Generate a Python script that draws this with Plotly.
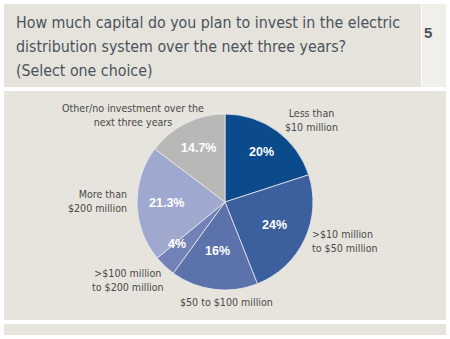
import math
import plotly.graph_objects as go

W, H = 450, 339

categories = ["Less than $10 million", ">$10 million to $50 million", "$50 to $100 million",
              ">$100 million to $200 million", "More than $200 million",
              "Other/no investment over the next three years"]
values = [20, 24, 16, 4, 21.3, 14.7]
pct_labels = ["20%", "24%", "16%", "4%", "21.3%", "14.7%"]
label_texts = ["Less than<br>$10 million", ">$10 million<br>to $50 million", "$50 to $100 million",
               ">$100 million<br>to $200 million", "More than<br>$200 million",
               "Other/no investment over the<br>next three years"]
title_lines = ["How much capital do you plan to invest in the electric",
               "distribution system over the next three years?",
               "(Select one choice)"]
colors = ["#0b4a8b", "#3c5f9e", "#5b72aa", "#7282b6", "#9fa9cf", "#b8b8b6"]

NARROW = "DejaVu Sans Condensed, DejaVu Sans, sans-serif"

def px(x):
    return x / W

def py(y):
    return 1 - y / H

cx, cy, R = 225, 202, 88

fig = go.Figure()
fig.add_trace(go.Pie(
    labels=categories, values=values, sort=False, direction="clockwise", rotation=0,
    marker=dict(colors=colors, line=dict(color="#e8e8ef", width=0.8)),
    textinfo="none", hoverinfo="label+percent", showlegend=False,
    domain=dict(x=[px(cx - R), px(cx + R)], y=[py(cy + R), py(cy - R)]),
))

shapes = [
    dict(type="rect", xref="paper", yref="paper", x0=px(4), x1=px(421), y0=py(87), y1=py(4),
         fillcolor="#e5e3dc", line=dict(width=0), layer="below"),
    dict(type="rect", xref="paper", yref="paper", x0=px(422), x1=px(446), y0=py(87), y1=py(4),
         fillcolor="#f0efe9", line=dict(width=0), layer="below"),
    dict(type="rect", xref="paper", yref="paper", x0=px(4), x1=px(446), y0=py(320), y1=py(91),
         fillcolor="#e6e4dc", line=dict(width=0), layer="below"),
    dict(type="rect", xref="paper", yref="paper", x0=px(4), x1=px(446), y0=py(335), y1=py(324),
         fillcolor="#e6e4dc", line=dict(width=0), layer="below"),
]

annotations = [
    dict(text="<b>5</b>", x=px(434), y=py(22), xref="paper", yref="paper", showarrow=False,
         font=dict(family="Liberation Sans, Arial", size=15, color="#4b535b")),
]
for i, line in enumerate(title_lines):
    annotations.append(dict(text=line, x=px(14), y=py(22 + 24.5 * i), xref="paper", yref="paper",
                            xanchor="left", yanchor="middle", align="left", showarrow=False,
                            font=dict(family=NARROW, size=15.8, color="#4b535b")))

# percentage labels inside slices, positioned at slice mid-angles
total = sum(values)
cum = 0
rfrac = [0.70, 0.62, 0.66, 0.80, 0.67, 0.68]
for v, t, rf in zip(values, pct_labels, rfrac):
    mid = (cum + v / 2) / total * 2 * math.pi
    cum += v
    x = cx + rf * R * math.sin(mid)
    y = cy - rf * R * math.cos(mid)
    annotations.append(dict(text="<b>%s</b>" % t, x=px(x), y=py(y), xref="paper", yref="paper",
                            showarrow=False, font=dict(family="Liberation Sans, Arial", size=12.5, color="white")))

# outside category labels
label_pos = [(311, 120, "center", "center"), (310, 241, "left", "left"), (226, 302, "center", "center"),
             (128, 280, "center", "center"), (129, 201, "right", "right"), (133, 115, "center", "center")]
for t, (x, y, xa, al) in zip(label_texts, label_pos):
    annotations.append(dict(text=t, x=px(x), y=py(y), xref="paper", yref="paper", xanchor=xa, align=al,
                            yanchor="middle", showarrow=False,
                            font=dict(family=NARROW, size=10.6, color="#4a4a4a")))

fig.update_layout(width=W, height=H, margin=dict(l=0, r=0, t=0, b=0),
                  paper_bgcolor="white", plot_bgcolor="white",
                  shapes=shapes, annotations=annotations)
fig.write_html("out.html")
